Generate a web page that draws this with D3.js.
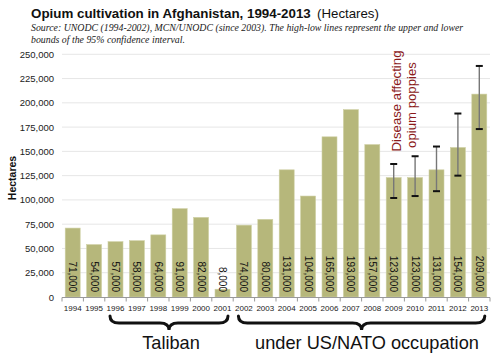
<!DOCTYPE html>
<html><head><meta charset="utf-8">
<script src="https://cdn.jsdelivr.net/npm/d3@7"></script>
<style>body{margin:0;background:#fff}svg{display:block}</style>
</head><body>
<svg id="c" width="500" height="358"></svg>
<script>
const years = ["1994","1995","1996","1997","1998","1999","2000","2001","2002","2003","2004","2005","2006","2007","2008","2009","2010","2011","2012","2013"];
const hectares = [71000,54000,57000,58000,64000,91000,82000,8000,74000,80000,131000,104000,165000,193000,157000,123000,123000,131000,154000,209000];
const ciYears = ["2009","2010","2011","2012","2013"];
const ciLow = [102000,104000,109000,125000,173000];
const ciHigh = [137000,145000,155000,189000,238000];
const yTicks = [0,25000,50000,75000,100000,125000,150000,175000,200000,225000,250000];

const svg = d3.select("#c");
const sans = "'Liberation Sans', Arial, sans-serif";
const serif = "'Liberation Serif', 'Times New Roman', serif";
const x = d3.scaleBand().domain(years).range([62, 490]).paddingInner(0.3).paddingOuter(0.15);
const y = d3.scaleLinear().domain([0, 250000]).range([297, 54.3]);

function fit(sel, width) {
  const fs = +sel.attr("font-size");
  const w = sel.node().getComputedTextLength();
  sel.attr("font-size", fs * width / w);
}

// gridlines
svg.append("g").selectAll("line").data(yTicks.slice(1)).join("line")
  .attr("x1", 62).attr("x2", 490).attr("y1", d => y(d)).attr("y2", d => y(d))
  .attr("stroke", "#e6e6e6").attr("stroke-width", 1);

// y tick labels
svg.append("g").selectAll("text").data(yTicks).join("text")
  .attr("x", 54).attr("y", d => y(d) + 3.5).attr("text-anchor", "end")
  .attr("font-family", sans).attr("font-size", 9.5).attr("fill", "#222")
  .text(d => d3.format(",")(d));

// y label
svg.append("text").attr("transform", "translate(16,178) rotate(-90)")
  .attr("text-anchor", "middle").attr("font-family", sans).attr("font-weight", "bold")
  .attr("font-size", 10.5).attr("fill", "#111").text("Hectares");

// bars
svg.append("g").selectAll("rect").data(years).join("rect")
  .attr("x", d => x(d)).attr("width", x.bandwidth())
  .attr("y", (d, i) => y(hectares[i])).attr("height", (d, i) => y(0) - y(hectares[i]))
  .attr("fill", "#b6b77b").attr("stroke", "#cfd0a4").attr("stroke-width", 0.6);

// x axis line and ticks
svg.append("line").attr("x1", 62).attr("x2", 490).attr("y1", 297.5).attr("y2", 297.5)
  .attr("stroke", "#999").attr("stroke-width", 1);
const bounds = years.map(d => x(d) - x.step() * x.paddingInner() / 2).concat([490]);
svg.append("g").selectAll("line").data(bounds).join("line")
  .attr("x1", d => d).attr("x2", d => d).attr("y1", 297.5).attr("y2", 301.5)
  .attr("stroke", "#999").attr("stroke-width", 1);

// year labels
svg.append("g").selectAll("text").data(years).join("text")
  .attr("x", d => x(d) + x.bandwidth() / 2).attr("y", 310.5).attr("text-anchor", "middle")
  .attr("font-family", sans).attr("font-size", 8).attr("fill", "#222").text(d => d);

// value labels
svg.append("g").selectAll("text").data(years).join("text")
  .attr("transform", d => `translate(${x(d) + x.bandwidth() / 2 - 3.6},292) rotate(90)`)
  .attr("text-anchor", "end").attr("font-family", sans).attr("font-size", 10).attr("fill", "#111")
  .text((d, i) => d3.format(",")(hectares[i]));

// confidence intervals
const ci = svg.append("g");
ciYears.forEach((yr, i) => {
  const cx = x(yr) + x.bandwidth() / 2;
  ci.append("line").attr("x1", cx).attr("x2", cx).attr("y1", y(ciHigh[i])).attr("y2", y(ciLow[i]))
    .attr("stroke", "#777").attr("stroke-width", 1.4);
  [ciHigh[i], ciLow[i]].forEach(v => {
    ci.append("line").attr("x1", cx - 3.5).attr("x2", cx + 3.5).attr("y1", y(v)).attr("y2", y(v))
      .attr("stroke", "#111").attr("stroke-width", 2);
  });
});

// annotation
const ann = svg.append("g").attr("font-family", sans).attr("font-size", 13.2).attr("fill", "#8b1a1a").attr("text-anchor", "middle");
ann.append("text").attr("transform", "translate(401,101) rotate(-90)").text("Disease affecting");
ann.append("text").attr("transform", "translate(415.5,105) rotate(-90)").text("opium poppies");

// title
const t1 = svg.append("text").attr("x", 31).attr("y", 18).attr("font-family", sans).attr("font-weight", "bold")
  .attr("font-size", 15.5).attr("fill", "#111").text("Opium cultivation in Afghanistan, 1994-2013");
fit(t1, 280);
const t2 = svg.append("text").attr("x", 317).attr("y", 18).attr("font-family", sans)
  .attr("font-size", 15.5).attr("fill", "#111").text("(Hectares)");
fit(t2, 62);

// subtitle
const s1 = svg.append("text").attr("x", 31).attr("y", 31).attr("font-family", serif).attr("font-style", "italic")
  .attr("font-size", 10.5).attr("fill", "#222")
  .text("Source: UNODC (1994-2002), MCN/UNODC (since 2003). The high-low lines represent the upper and lower");
fit(s1, 433);
svg.append("text").attr("x", 31).attr("y", 43).attr("font-family", serif).attr("font-style", "italic")
  .attr("font-size", s1.attr("font-size")).attr("fill", "#222").text("bounds of the 95% confidence interval.");

// braces
function brace(x1, x2, top) {
  const mid = (x1 + x2) / 2, line = top + 7, tip = top + 14, r = 6;
  return `M${x1},${top} Q${x1},${line} ${x1 + r * 1.5},${line} L${mid - r * 1.5},${line} Q${mid},${line} ${mid},${tip} Q${mid},${line} ${mid + r * 1.5},${line} L${x2 - r * 1.5},${line} Q${x2},${line} ${x2},${top}`;
}
const periods = [
  {label: "Taliban", from: "1996", to: "2001", cx: 171},
  {label: "under US/NATO occupation", from: "2002", to: "2013", cx: 367}
];
periods.forEach(p => {
  const x1 = x(p.from) + 2, x2 = x(p.to) + x.bandwidth() - 2;
  svg.append("path").attr("d", brace(x1, x2, 316)).attr("fill", "none")
    .attr("stroke", "#111").attr("stroke-width", 3).attr("stroke-linecap", "round");
  svg.append("text").attr("x", p.cx).attr("y", 349).attr("text-anchor", "middle")
    .attr("font-family", sans).attr("font-size", 18.2).attr("fill", "#111").text(p.label);
});
</script>
</body></html>
